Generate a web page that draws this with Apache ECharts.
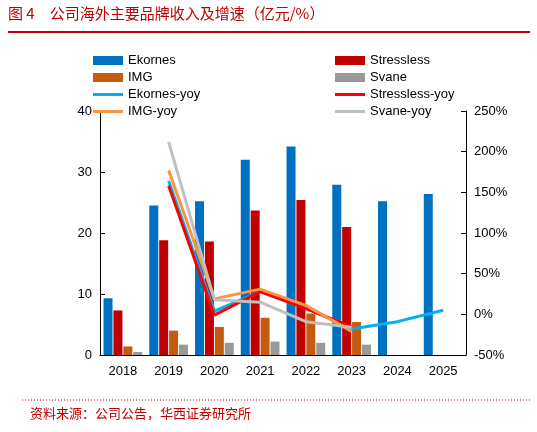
<!DOCTYPE html><html><head><meta charset="utf-8">
<script src="https://cdn.jsdelivr.net/npm/echarts@6/dist/echarts.min.js"></script>
<style>body{margin:0;background:#fff}#c{width:537px;height:432px}</style></head><body><div id="c"></div>
<script>
const years=['2018','2019','2020','2021','2022','2023','2024','2025'];
const ekornes=[9.3,24.5,25.2,32.0,34.2,27.9,25.2,26.4];
const stressless=[7.3,18.8,18.6,23.7,25.4,21.0,null,null];
const img=[1.4,4.0,4.6,6.1,6.8,5.4,null,null];
const svane=[0.5,1.7,2.0,2.2,2.0,1.7,null,null];
const ekornesYoy=[null,164,4,28,8,-18,-9,5];
const stresslessYoy=[null,158,-1,28,7,-15,null,null];
const imgYoy=[null,177,19,31,11,-21,null,null];
const svaneYoy=[null,212,18,15,-9,-16,null,null];
const ch=echarts.init(document.getElementById('c'));
const f='"Liberation Sans",Arial,sans-serif';
const bar=(n,d,c)=>({name:n,type:'bar',data:d,itemStyle:{color:c},barWidth:9,barGap:'10%'});
const line=(n,d,c)=>({name:n,type:'line',yAxisIndex:1,data:d,symbol:'none',lineStyle:{color:c,width:3},itemStyle:{color:c},connectNulls:false});
const LI='path://M0,0L30,0L30,3L0,3Z';
const lg=(left,items)=>({left:left,top:49,orient:'vertical',itemGap:4,itemWidth:30,itemHeight:9,
 textStyle:{fontFamily:f,fontSize:13,color:'#000'},
 data:items.map(n=>n.endsWith('yoy')?{name:n,icon:LI,itemHeight:3}:{name:n,icon:'rect'})});
ch.setOption({animation:false,
graphic:[
{type:'text',left:8,top:6,style:{text:'图 4　公司海外主要品牌收入及增速（亿元/%）',fill:'#C00000',font:'15px "Noto Sans CJK SC"'}},
{type:'rect',shape:{x:8,y:31,width:522,height:2},style:{fill:'#C00000'}},
{type:'line',shape:{x1:22,y1:400,x2:530,y2:400},style:{stroke:'#C00000',lineWidth:1,lineDash:[1,2]}},
{type:'text',left:30,top:407,style:{text:'资料来源：公司公告，华西证券研究所',fill:'#C00000',font:'13px "Noto Sans CJK SC"'}}
],
legend:[lg(88,['Ekornes','IMG','Ekornes-yoy','IMG-yoy']),lg(330,['Stressless','Svane','Stressless-yoy','Svane-yoy'])],
grid:{left:100,right:71,top:111,bottom:77},
xAxis:{type:'category',data:years,axisTick:{show:false},axisLine:{lineStyle:{color:'#000'}},axisLabel:{color:'#000',fontFamily:f,fontSize:13,margin:10}},
yAxis:[{type:'value',min:0,max:40,interval:10,splitLine:{show:false},axisLine:{show:true,lineStyle:{color:'#000'}},axisTick:{show:true,inside:true},axisLabel:{color:'#000',fontFamily:f,fontSize:13}},
{type:'value',min:-50,max:250,interval:50,splitLine:{show:false},axisLine:{show:true,lineStyle:{color:'#000'}},axisTick:{show:true,inside:true},axisLabel:{color:'#000',fontFamily:f,fontSize:13,formatter:'{value}%'}}],
series:[bar('Ekornes',ekornes,'#0070C0'),bar('Stressless',stressless,'#C00000'),bar('IMG',img,'#C55A11'),bar('Svane',svane,'#999999'),
line('Ekornes-yoy',ekornesYoy,'#00B0F0'),line('Stressless-yoy',stresslessYoy,'#FF0000'),line('IMG-yoy',imgYoy,'#F79646'),line('Svane-yoy',svaneYoy,'#BFBFBF')]
});
</script></body></html>
